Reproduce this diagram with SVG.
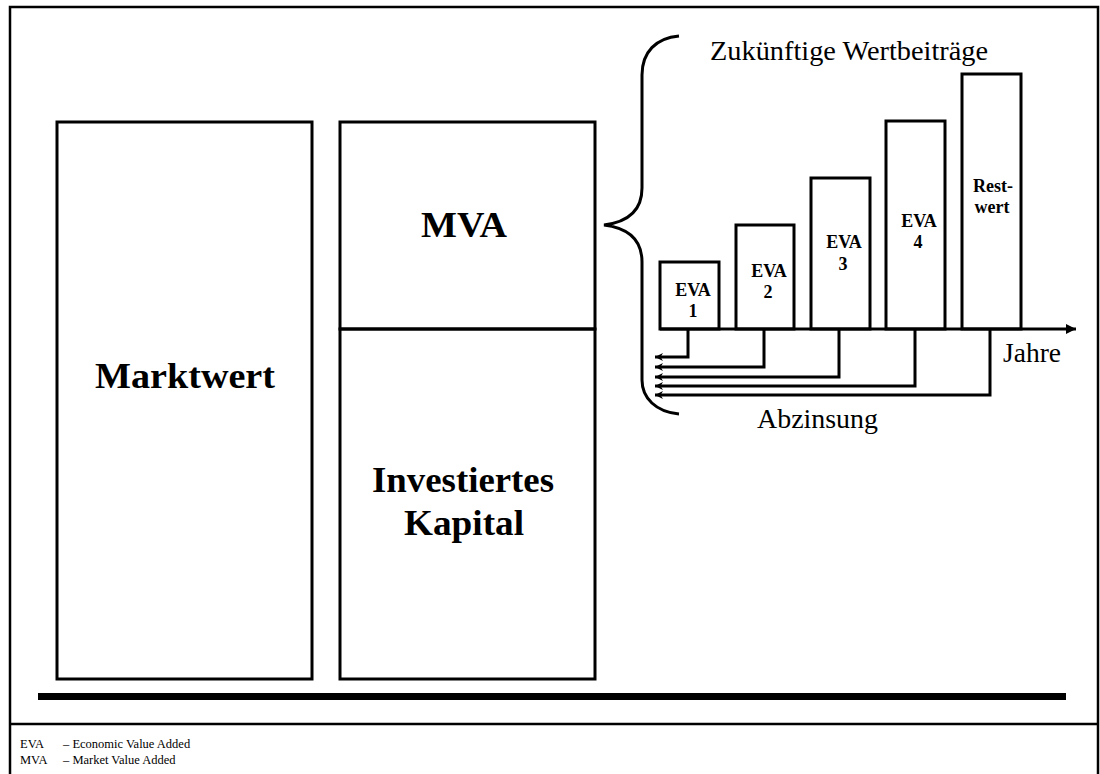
<svg xmlns="http://www.w3.org/2000/svg" width="1100" height="774" viewBox="0 0 1100 774">
<defs>
<style>
.box{fill:none;stroke:#000;stroke-width:3}
.ln{fill:none;stroke:#000;stroke-width:3}
.big{font-family:"Liberation Serif",serif;font-weight:bold;font-size:36px;text-anchor:middle}
.eva{font-family:"Liberation Serif",serif;font-weight:bold;font-size:18px;text-anchor:middle}
.lbl{font-family:"Liberation Serif",serif;font-size:27px}
.leg{font-family:"Liberation Serif",serif;font-size:12.5px}
</style>
<marker id="ah" viewBox="0 0 10 10" refX="10" refY="5" markerWidth="13" markerHeight="10" markerUnits="userSpaceOnUse" orient="auto">
<path d="M0,0 L10,5 L0,10 Z" fill="#000"/>
</marker>
<marker id="ahs" viewBox="0 0 10 10" refX="10" refY="5" markerWidth="11" markerHeight="8" markerUnits="userSpaceOnUse" orient="auto">
<path d="M0,0 L10,5 L0,10 L3,5 Z" fill="#000"/>
</marker>
</defs>
<rect width="1100" height="774" fill="#fff"/>
<g id="frame">
<rect x="10" y="7" width="1088" height="780" fill="none" stroke="#000" stroke-width="2.5"/>
<line x1="10" y1="724" x2="1098" y2="724" stroke="#000" stroke-width="2.5"/>
<line x1="38" y1="696.5" x2="1066" y2="696.5" stroke="#000" stroke-width="7"/>
</g>
<g id="marktwert">
<rect class="box" x="57" y="122" width="255" height="557"/>
<text class="big" x="185" y="388" textLength="180" lengthAdjust="spacingAndGlyphs">Marktwert</text>
</g>
<g id="mva">
<rect class="box" x="340" y="122" width="255" height="207"/>
<text class="big" x="464" y="237" textLength="86" lengthAdjust="spacingAndGlyphs">MVA</text>
</g>
<g id="kapital">
<rect class="box" x="340" y="329" width="255" height="350"/>
<text class="big" x="463" y="492" textLength="182" lengthAdjust="spacingAndGlyphs">Investiertes</text>
<text class="big" x="464" y="535" textLength="120" lengthAdjust="spacingAndGlyphs">Kapital</text>
</g>
<g id="brace">
<path class="ln" d="M679,36 C656,38 642,52 642,75 L642,188 C642,210 628,222 604,225 C628,228 642,240 642,262 L642,380 C642,398 656,412 679,414"/>
<text class="lbl" x="710" y="60" textLength="278" lengthAdjust="spacingAndGlyphs">Zukünftige Wertbeiträge</text>
</g>
<g id="eva1">
<rect class="box" x="660" y="262" width="59" height="67"/>
<text class="eva" x="693" y="296">EVA</text>
<text class="eva" x="693" y="317">1</text>
</g>
<g id="eva2">
<rect class="box" x="736" y="225" width="58" height="104"/>
<text class="eva" x="769" y="277">EVA</text>
<text class="eva" x="768" y="298">2</text>
</g>
<g id="eva3">
<rect class="box" x="811" y="178" width="59" height="151"/>
<text class="eva" x="844" y="248">EVA</text>
<text class="eva" x="843" y="270">3</text>
</g>
<g id="eva4">
<rect class="box" x="886" y="121" width="59" height="208"/>
<text class="eva" x="919" y="227">EVA</text>
<text class="eva" x="918" y="248">4</text>
</g>
<g id="restwert">
<rect class="box" x="962" y="74" width="59" height="255"/>
<text class="eva" x="993" y="192">Rest-</text>
<text class="eva" x="992" y="213">wert</text>
</g>
<g id="connectors">
<line class="ln" x1="660" y1="329" x2="1076" y2="329" marker-end="url(#ah)"/>
<polyline class="ln" stroke-width="2.5" points="688,329 688,357 655,357" marker-end="url(#ahs)"/>
<polyline class="ln" stroke-width="2.5" points="764,329 764,367 655,367" marker-end="url(#ahs)"/>
<polyline class="ln" stroke-width="2.5" points="839,329 839,377 655,377" marker-end="url(#ahs)"/>
<polyline class="ln" stroke-width="2.5" points="915,329 915,386 655,386" marker-end="url(#ahs)"/>
<polyline class="ln" stroke-width="2.5" points="990,329 990,395 655,395" marker-end="url(#ahs)"/>
</g>
<g id="labels">
<text class="lbl" x="1003" y="362" textLength="58" lengthAdjust="spacingAndGlyphs">Jahre</text>
<text class="lbl" x="757" y="428" textLength="121" lengthAdjust="spacingAndGlyphs">Abzinsung</text>
</g>
<g id="legend">
<text class="leg" x="20" y="748">EVA</text>
<text class="leg" x="63" y="748">– Economic Value Added</text>
<text class="leg" x="20" y="764">MVA</text>
<text class="leg" x="63" y="764">– Market Value Added</text>
</g>
</svg>
